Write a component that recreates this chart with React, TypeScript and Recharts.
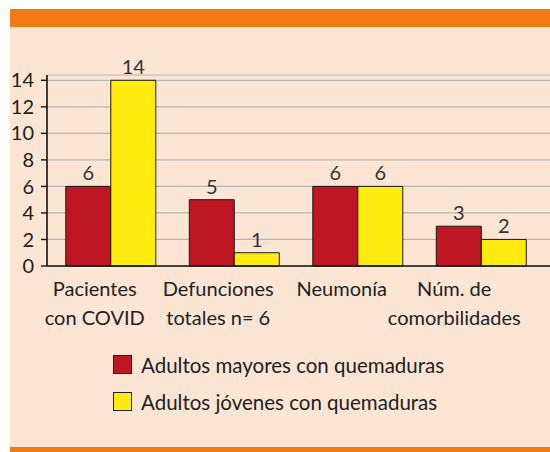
import { BarChart, Bar, XAxis, YAxis, CartesianGrid, Legend, LabelList } from 'recharts'

const CATEGORIES = [
    ['Pacientes', 'con COVID'],
    ['Defunciones', 'totales n= 6'],
    ['Neumonía'],
    ['Núm. de', 'comorbilidades'],
]
const MAYORES = [6, 5, 6, 3]
const JOVENES = [14, 1, 6, 2]
const Y_TICKS = [0, 2, 4, 6, 8, 10, 12, 14]
const SERIES_NAMES = ['Adultos mayores con quemaduras', 'Adultos jóvenes con quemaduras']

const RED = '#BE1622'
const YELLOW = '#FFEB0F'
const FONT = 'Lato, "Open Sans", sans-serif'

const data = CATEGORIES.map((c, i) => ({
    name: c.join(' '),
    mayores: MAYORES[i],
    jovenes: JOVENES[i],
}))

function CategoryTick(props: any) {
    const { x, y, index } = props
    const lines = CATEGORIES[index] || []
    const dx = index === CATEGORIES.length - 1 ? -27 : -16
    return (
        <text x={x + dx} y={y} textAnchor="middle" fill="#222" fontSize={20} fontFamily={FONT}>
            {lines.map((l, i) => (
                <tspan key={i} x={x + dx} y={y + 22 + i * 29}>
                    {l}
                </tspan>
            ))}
        </text>
    )
}

function LegendBox() {
    const colors = [RED, YELLOW]
    return (
        <div style={{ fontFamily: FONT, fontSize: 20.5, color: '#222' }}>
            {SERIES_NAMES.map((n, i) => (
                <div key={n} style={{ display: 'flex', alignItems: 'center', height: 37 }}>
                    <span
                        style={{
                            width: 17,
                            height: 17,
                            background: colors[i],
                            border: '1px solid #222',
                            marginRight: 9,
                            display: 'inline-block',
                        }}
                    />
                    <span>{n}</span>
                </div>
            ))}
        </div>
    )
}

export default function App() {
    return (
        <div style={{ position: 'absolute', left: 0, top: 0, width: 550, height: 452, background: '#fff', overflow: 'hidden' }}>
            <div style={{ position: 'absolute', left: 10, top: 9, width: 540, height: 18, background: '#F07A14' }} />
            <div style={{ position: 'absolute', left: 10, top: 27, width: 540, height: 420, background: '#FDE5D4' }} />
            <div style={{ position: 'absolute', left: 10, top: 447, width: 540, height: 5, background: '#F07A14' }} />
            <div style={{ position: 'absolute', left: 0, top: 0 }}>
                <BarChart
                    width={550}
                    height={452}
                    data={data}
                    margin={{ top: 75, right: 0, left: 0, bottom: 52 }}
                    barCategoryGap="13.6%"
                    barGap={0}
                >
                    <CartesianGrid vertical={false} stroke="#b5b5b5" strokeWidth={1.2} />
                    <XAxis
                        dataKey="name"
                        interval={0}
                        height={60}
                        padding={{ left: 2, right: 7 }}
                        axisLine={{ stroke: '#111', strokeWidth: 1.6 }}
                        tickLine={false}
                        tick={<CategoryTick />}
                    />
                    <YAxis
                        width={47}
                        domain={[0, 14.4]}
                        ticks={Y_TICKS}
                        interval={0}
                        tickSize={6}
                        tickMargin={7}
                        axisLine={{ stroke: '#111', strokeWidth: 1.6 }}
                        tickLine={{ stroke: '#111', strokeWidth: 1.4 }}
                        tick={{ fill: '#222', fontSize: 20, fontFamily: FONT }}
                    />
                    <Legend
                        content={<LegendBox />}
                        wrapperStyle={{ position: 'absolute', left: 113, top: 346, width: 400, bottom: 'auto' }}
                    />
                    <Bar dataKey="mayores" name={SERIES_NAMES[0]} fill={RED} stroke="#1a1a1a" strokeWidth={1} isAnimationActive={false}>
                        <LabelList dataKey="mayores" position="top" offset={6} fill="#333" fontSize={20} fontFamily={FONT} />
                    </Bar>
                    <Bar dataKey="jovenes" name={SERIES_NAMES[1]} fill={YELLOW} stroke="#1a1a1a" strokeWidth={1} isAnimationActive={false}>
                        <LabelList dataKey="jovenes" position="top" offset={6} fill="#333" fontSize={20} fontFamily={FONT} />
                    </Bar>
                </BarChart>
            </div>
        </div>
    )
}
